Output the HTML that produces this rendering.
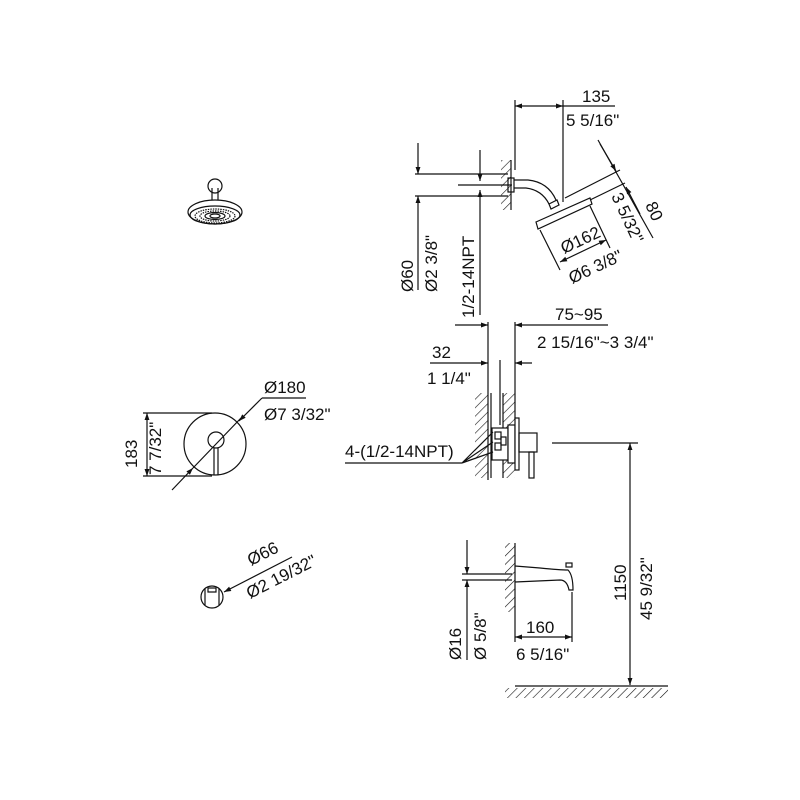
<!DOCTYPE html>
<html><head><meta charset="utf-8"><style>
html,body{margin:0;padding:0;background:#fff;width:800px;height:800px;overflow:hidden}
text{font-family:"Liberation Sans",Arial,sans-serif;font-size:17px;fill:#111;stroke:none}
</style></head><body>
<svg width="800" height="800" viewBox="0 0 800 800" xmlns="http://www.w3.org/2000/svg">
<defs>
<marker id="a" viewBox="0 0 10 10" refX="10" refY="5" markerWidth="10" markerHeight="7" orient="auto-start-reverse" markerUnits="userSpaceOnUse"><path d="M0,1.5 L10,5 L0,8.5 z" fill="#111"/></marker>
<pattern id="h" width="6" height="6" patternUnits="userSpaceOnUse" patternTransform="rotate(45)"><line x1="0" y1="0" x2="0" y2="6" stroke="#111" stroke-width="1.2"/></pattern>
</defs>
<g stroke="#111" stroke-width="1.2" fill="none">
<!-- small shower head -->
<circle cx="215" cy="186" r="7"/>
<path d="M212,200 v-12 M218,200 v-12"/>
<ellipse cx="215" cy="212" rx="27" ry="12"/>
<ellipse cx="215" cy="215" rx="25" ry="9"/>
<ellipse cx="215" cy="216" rx="20" ry="7" stroke-dasharray="1.5 1"/>
<ellipse cx="215" cy="216" rx="15" ry="5" stroke-dasharray="1.5 1"/>
<ellipse cx="215" cy="216" rx="10" ry="3.5"/>
<ellipse cx="215" cy="216" rx="5" ry="2"/>

<!-- top right: shower arm -->
<line x1="515" y1="100" x2="515" y2="170"/>
<line x1="563" y1="100" x2="563" y2="202"/>
<line x1="515" y1="106" x2="563" y2="106" marker-start="url(#a)" marker-end="url(#a)"/>
<line x1="563" y1="106" x2="615" y2="106"/>
<!-- wall -->
<line x1="511" y1="160" x2="511" y2="210"/>
<rect x="501" y="160" width="10" height="50" fill="url(#h)" stroke="none"/>
<!-- pipe -->
<line x1="415" y1="174" x2="508" y2="174"/>
<line x1="415" y1="196" x2="508" y2="196"/>
<line x1="458" y1="185" x2="512" y2="185"/>
<rect x="508" y="178" width="6" height="14"/>
<path d="M514,180 L528,180 Q548,182 556,200"/>
<path d="M514,188 L526,188 Q542,190 549,204"/>
<path d="M549,204 l8,-4 l2,5 l-8,4 z"/>
<line x1="418" y1="143" x2="418" y2="174" marker-end="url(#a)"/>
<line x1="418" y1="290" x2="418" y2="196" marker-end="url(#a)"/>
<line x1="480" y1="150" x2="480" y2="181" marker-end="url(#a)"/>
<line x1="480" y1="315" x2="480" y2="190" marker-end="url(#a)"/>
<!-- head plate -->
<path d="M536,222 L590,198 L592,204 L538,229 z"/>
<line x1="565" y1="198" x2="620" y2="170"/>
<line x1="590" y1="200" x2="625" y2="183"/>
<line x1="598" y1="140" x2="653" y2="238"/>
<line x1="600" y1="144" x2="616" y2="171" marker-end="url(#a)"/>
<line x1="640" y1="214" x2="626" y2="187" marker-end="url(#a)"/>
<line x1="540" y1="230" x2="560" y2="270"/>
<line x1="590" y1="206" x2="610" y2="248"/>
<line x1="560" y1="262" x2="606" y2="240" marker-start="url(#a)" marker-end="url(#a)"/>

<!-- middle valve -->
<line x1="488" y1="322" x2="488" y2="480"/>
<line x1="515" y1="322" x2="515" y2="420"/>
<line x1="455" y1="325" x2="488" y2="325" marker-end="url(#a)"/>
<line x1="608" y1="325" x2="515" y2="325" marker-end="url(#a)"/>
<line x1="430" y1="363" x2="488" y2="363" marker-end="url(#a)"/>
<line x1="532" y1="363" x2="515" y2="363" marker-end="url(#a)"/>
<line x1="500" y1="360" x2="500" y2="425"/>
<rect x="475" y="393" width="13" height="85" fill="url(#h)" stroke="none"/>
<rect x="503" y="393" width="12" height="85" fill="url(#h)" stroke="none"/>
<line x1="491" y1="393" x2="491" y2="478"/>
<line x1="503" y1="393" x2="503" y2="478"/>
<rect x="492" y="428" width="16" height="32" fill="#fff"/>
<rect x="495" y="432" width="6" height="7"/><rect x="495" y="443" width="6" height="7"/><rect x="501" y="437" width="5" height="8"/>
<rect x="508" y="425" width="7" height="38" fill="#fff"/>
<rect x="515" y="418" width="4" height="52" fill="#fff"/>
<rect x="519" y="433" width="18" height="19"/>
<rect x="529" y="452" width="5" height="26"/>
<line x1="345" y1="463" x2="462" y2="463"/>
<path d="M462,463 L493,432 M462,463 L493,442 M462,463 L493,452"/>
<line x1="552" y1="443" x2="638" y2="443"/>
<line x1="630" y1="685" x2="630" y2="443" marker-start="url(#a)" marker-end="url(#a)"/>
<line x1="515" y1="686" x2="668" y2="686"/>
<rect x="505" y="688" width="163" height="10" fill="url(#h)" stroke="none"/>

<!-- spout -->
<line x1="515" y1="543" x2="515" y2="612"/>
<rect x="505" y="543" width="10" height="69" fill="url(#h)" stroke="none"/>
<line x1="462" y1="574" x2="512" y2="574"/>
<line x1="462" y1="580" x2="512" y2="580"/>
<path d="M515,566 L540,568 Q560,570 568,570 Q573,575 573,590 L569,590 Q567,580 560,580 L515,582"/>
<rect x="566" y="563" width="6" height="4"/>
<line x1="467" y1="540" x2="467" y2="574" marker-end="url(#a)"/>
<line x1="467" y1="660" x2="467" y2="580" marker-end="url(#a)"/>
<line x1="515" y1="612" x2="515" y2="642"/>
<line x1="572" y1="592" x2="572" y2="642"/>
<line x1="515" y1="637" x2="572" y2="637" marker-start="url(#a)" marker-end="url(#a)"/>

<!-- left mixer -->
<circle cx="215" cy="444" r="31"/>
<circle cx="216" cy="440" r="8"/>
<path d="M214,448 v27 M218,448 v27"/>
<line x1="143" y1="413" x2="212" y2="413"/>
<line x1="143" y1="476" x2="212" y2="476"/>
<line x1="147" y1="413" x2="147" y2="476" marker-start="url(#a)" marker-end="url(#a)"/>
<line x1="172" y1="490" x2="193" y2="468" marker-end="url(#a)"/>
<line x1="193" y1="468" x2="241" y2="418"/>
<line x1="262" y1="398" x2="239" y2="421" marker-end="url(#a)"/>
<line x1="262" y1="398" x2="306" y2="398"/>

<!-- small knob -->
<circle cx="212" cy="597" r="11"/>
<path d="M205,589 v16 M219,589 v16 M208,588 h8 v4 h-8 z"/>
<line x1="292" y1="557" x2="224" y2="592" marker-end="url(#a)"/>
</g>
<g>
<text x="582" y="102">135</text>
<text x="566" y="126">5 5/16"</text>
<text transform="translate(413,292) rotate(-90)">Ø60</text>
<text transform="translate(437,292) rotate(-90)">Ø2 3/8"</text>
<text transform="translate(474,318) rotate(-90)">1/2-14NPT</text>
<text transform="translate(564,254) rotate(-25)">Ø162</text>
<text transform="translate(572,284) rotate(-25)">Ø6 3/8"</text>
<text transform="translate(611,196) rotate(65)">3 5/32"</text>
<text transform="translate(645,205) rotate(65)">80</text>
<text x="555" y="320">75~95</text>
<text x="537" y="348">2 15/16"~3 3/4"</text>
<text x="432" y="358">32</text>
<text x="427" y="384">1 1/4"</text>
<text x="345" y="457">4-(1/2-14NPT)</text>
<text transform="translate(626,601) rotate(-90)">1150</text>
<text transform="translate(652,620) rotate(-90)">45 9/32"</text>
<text transform="translate(461,660) rotate(-90)">Ø16</text>
<text transform="translate(486,660) rotate(-90)">Ø 5/8"</text>
<text x="526" y="633">160</text>
<text x="516" y="660">6 5/16"</text>
<text transform="translate(137,468) rotate(-90)">183</text>
<text transform="translate(161,475) rotate(-90)">7 7/32"</text>
<text x="264" y="393">Ø180</text>
<text x="264" y="420">Ø7 3/32"</text>
<text transform="translate(251,566) rotate(-27)">Ø66</text>
<text transform="translate(250,599) rotate(-27)">Ø2 19/32"</text>
</g>
</svg>
</body></html>
